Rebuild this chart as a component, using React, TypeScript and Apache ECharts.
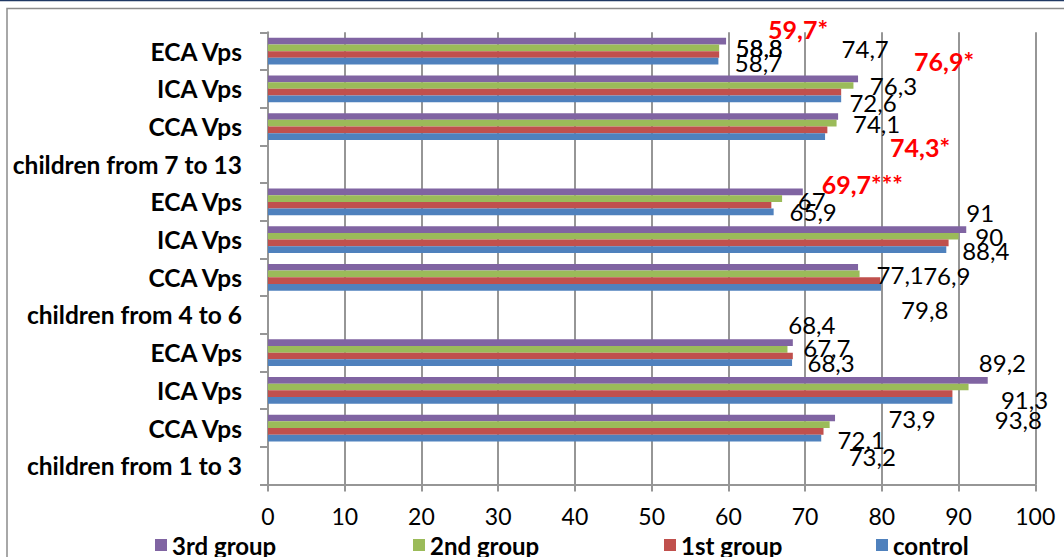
import React, { useEffect, useRef } from "react";
import * as echarts from "echarts";

// Category axis rows, listed bottom to top as ECharts draws them.
const categories = [
  "children from 1 to 3",
  "CCA Vps",
  "ICA Vps",
  "ECA Vps",
  "children from 4 to 6",
  "CCA Vps",
  "ICA Vps",
  "ECA Vps",
  "children from 7 to 13",
  "CCA Vps",
  "ICA Vps",
  "ECA Vps",
];

// Vps values per group (header rows carry no bars).
const control = [null, 72.1, 89.2, 68.3, null, 79.9, 88.4, 65.9, null, 72.6, 74.7, 58.7];
const group1 = [null, 72.4, 89.2, 68.4, null, 79.8, 88.7, 65.6, null, 72.9, 74.7, 58.8];
const group2 = [null, 73.2, 91.3, 67.7, null, 77.1, 90, 67, null, 74.1, 76.3, 58.8];
const group3 = [null, 73.9, 93.8, 68.4, null, 76.9, 91, 69.7, null, 74.3, 76.9, 59.7];

// Significance marks attached to the 3rd group's values.
const group3Marks = ["", "", "", "", "", "", "", "***", "", "*", "*", "*"];

const legendOrder = ["3rd group", "2nd group", "1st group", "control"];

const xMin = 0;
const xMax = 100;
const xStep = 10;

// Label placement: offset from the bar end [dx, dy]; null hides the label.
type Off = [number, number] | null;
const controlLabelOffsets: Off[] = [null, [40, 1.8], null, [39, 0], null, null, [39.5, 1.3], [39.5, 0], null, [48, -33.6], null, [40, 1]];
const group1LabelOffsets: Off[] = [null, null, [50, -31], null, null, [44.4, 29.3], null, null, null, null, [24, -44], [40, -6.5]];
const group2LabelOffsets: Off[] = [null, [42.6, 32.2], [56, 12], [39.4, -1.4], null, [40.6, 1], [30.7, 0.7], [29.6, 2.4], null, [40, 0], [40, 0], [40, 0]];
const group3LabelOffsets: Off[] = [null, [77, 0], [30.6, 38.7], [19, -18.6], null, [88.7, 7.75], [14, -17.5], [59.5, -8], null, [82, 30.5], [86, -18], [72, -12]];

const colors: Record<string, string> = {
  control: "#4F81BD",
  "1st group": "#C0504D",
  "2nd group": "#9BBB59",
  "3rd group": "#8064A2",
};

const FONT = 'Lato, "Noto Sans", sans-serif';
const legendLeft = [155, 413, 664, 876];

const fmt = (v: number) => String(v).replace(".", ",");

function buildSeries(name: string, values: (number | null)[], offsets: Off[], marks?: string[]) {
  return {
    name,
    type: "bar",
    barGap: "0%",
    barCategoryGap: "29%",
    itemStyle: { color: colors[name] },
    label: {
      show: false,
      position: "right",
      distance: 0,
      align: "center",
      verticalAlign: "middle",
      fontFamily: FONT,
      fontSize: 24,
      color: "#000",
    },
    data: values.map((v, i) => {
      if (v === null) return null;
      const off = offsets[i];
      const mark = marks ? marks[i] : "";
      const highlighted = mark !== "";
      return {
        value: v,
        label: off
          ? {
              show: true,
              offset: off,
              formatter: fmt(v) + mark,
              color: highlighted ? "#FF0000" : "#000",
              fontWeight: highlighted ? "bold" : "normal",
              fontSize: highlighted ? 25 : 24,
            }
          : { show: false },
      };
    }),
  };
}

export default function App() {
  const ref = useRef<HTMLDivElement>(null);

  useEffect(() => {
    if (!ref.current) return;
    const chart = echarts.init(ref.current, null, { renderer: "svg" });
    chart.setOption({
      animation: false,
      backgroundColor: "#fff",
      graphic: [
        { type: "line", shape: { x1: 0, y1: 0.5, x2: 1064, y2: 0.5 }, style: { stroke: "#1F3864", lineWidth: 1.5 } },
        { type: "rect", shape: { x: 7, y: 8.5, width: 1100, height: 600 }, style: { fill: "none", stroke: "#8C8C8C", lineWidth: 1.5 } },
      ],
      grid: { left: 268, top: 32.3, right: 28.7, bottom: 72.4, containLabel: false },
      legend: legendOrder.map((n, i) => ({
        data: [n],
        left: legendLeft[i],
        top: 533,
        padding: 0,
        icon: "rect",
        itemWidth: 12,
        itemHeight: 12,
        itemGap: 8,
        textStyle: { fontFamily: FONT, fontSize: 24, fontWeight: "bold", color: "#000" },
        selectedMode: false,
      })),
      xAxis: {
        type: "value",
        min: xMin,
        max: xMax,
        interval: xStep,
        axisLine: { show: true, lineStyle: { color: "#969696", width: 2 } },
        axisTick: { show: true, length: 7, lineStyle: { color: "#969696", width: 2 } },
        splitLine: { show: true, lineStyle: { color: "#969696", width: 2 } },
        axisLabel: { fontFamily: FONT, fontSize: 23, color: "#000", margin: 20 },
      },
      yAxis: {
        type: "category",
        data: categories,
        axisLine: { show: true, lineStyle: { color: "#969696", width: 2 } },
        axisTick: { show: true, length: 8, lineStyle: { color: "#969696", width: 2 } },
        axisLabel: { fontFamily: FONT, fontSize: 24.5, fontWeight: "bold", color: "#000", margin: 26 },
      },
      // Drawn top-down within each row: 3rd group on top, control at the bottom.
      series: [
        buildSeries("3rd group", group3, group3LabelOffsets, group3Marks),
        buildSeries("2nd group", group2, group2LabelOffsets),
        buildSeries("1st group", group1, group1LabelOffsets),
        buildSeries("control", control, controlLabelOffsets),
      ],
    });
    return () => chart.dispose();
  }, []);

  return (
    <div
      ref={ref}
      style={{ position: "absolute", left: 0, top: 0, width: 1064, height: 557 }}
    />
  );
}
